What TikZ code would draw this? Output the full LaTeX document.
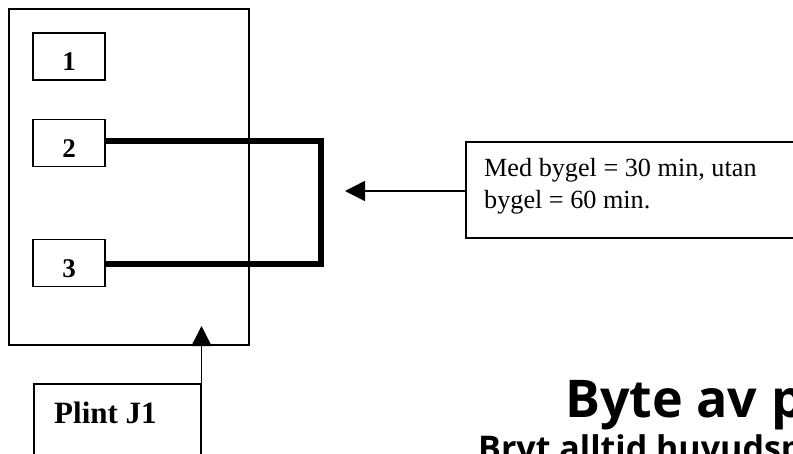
\documentclass[tikz,border=0pt]{standalone}
\usepackage{fontspec}
\setmainfont{Liberation Serif}
\newfontfamily\rubrikfont{Open Sans}
\usetikzlibrary{arrows.meta}
\begin{document}
\begin{tikzpicture}[x=1pt, y=-1pt, >={Triangle[length=20pt, width=20pt]},
    squarenode/.style={rectangle, draw=black, line width=1.5pt, minimum width=72pt, minimum height=47pt, inner sep=0pt, font=\bfseries\fontsize{27}{30}\selectfont},
    framenode/.style={rectangle, draw=black, line width=1.5pt, inner sep=0pt},
    textnode/.style={rectangle, draw=black, line width=1.5pt, anchor=north west, inner sep=0pt},
    bygel/.style={line width=5.5pt},
    pil/.style={->, line width=1.5pt}]
    \clip (0,0) rectangle (793,453);
    % Place nodes
    \node[framenode, minimum width=240pt, minimum height=336pt] (plint) at (129,177) {};
    \node[squarenode] (et)  at (69,56.5)                    {\raisebox{-13.5pt}[0pt][0pt]{1}};
    \node[squarenode] (to)  [below of = et, node distance=86.5pt] {\raisebox{-14pt}[0pt][0pt]{2}};
    \node[squarenode] (tre) [below of = to, node distance=120pt]  {\raisebox{-14pt}[0pt][0pt]{3}};
    \node[textnode, minimum width=400pt, minimum height=96pt] (info) at (465,141) {};
    \node[anchor=north west, inner sep=0pt, align=left, font=\fontsize{26.2}{32}\selectfont] (infotext) at (484,158) {Med bygel = 30 min, utan\\bygel = 60 min.};
    \node[textnode, minimum width=167pt, minimum height=120pt] (j1) at (33,383) {};
    \node[anchor=west, inner sep=0pt, font=\bfseries\fontsize{31}{36}\selectfont] (j1text) at (54,413) {Plint J1};
    \node[anchor=base west, inner sep=0pt, font=\rubrikfont\bfseries\fontsize{52}{56}\selectfont] (rubrik) at (565,417) {Byte av p};
    \node[anchor=base west, inner sep=0pt, font=\rubrikfont\bfseries\fontsize{34}{38}\selectfont] (under) at (478,460) {Bryt alltid huvudsp};
    \coordinate (knee2) at (321,141);
    \coordinate (knee3) at (321,264);
    \coordinate (tipinfo) at (345,191);
    \coordinate (tipj1) at ([yshift=57pt]j1.north east);
    % Create edges
      \draw[bygel] (to.east |- knee2) -- (knee2) -- (knee3) -- (tre.east |- knee3);
      \draw[pil] (info.west |- tipinfo) -- (tipinfo);
      \draw[pil] (j1.north east) -- (tipj1);
\end{tikzpicture}
\end{document}
